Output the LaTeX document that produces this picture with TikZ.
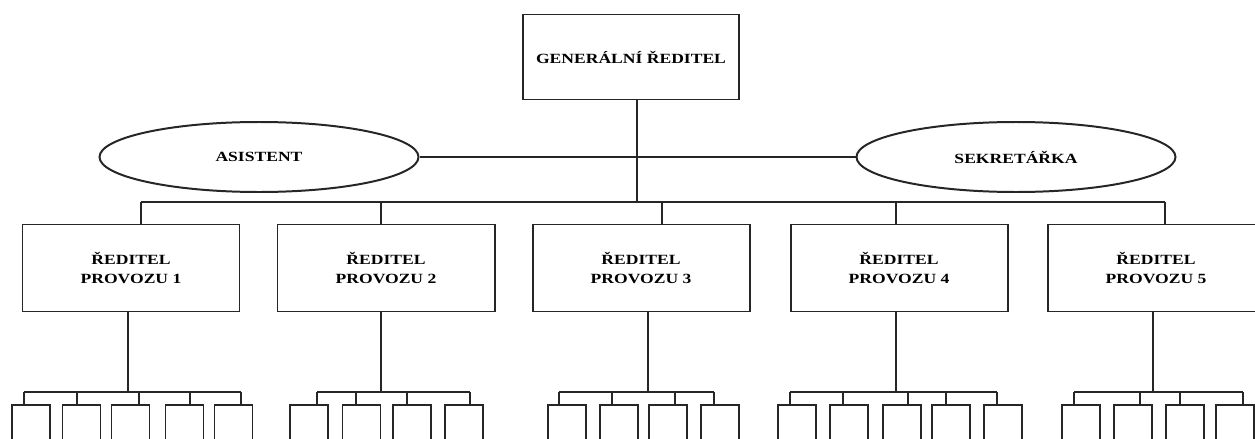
\documentclass[tikz,border=0pt]{standalone}
\usepackage{fontspec}
\setmainfont{Liberation Serif}
\newfontfamily\orgfont[FakeStretch=1.25]{Liberation Serif}
\usetikzlibrary{shapes.geometric}

\tikzset{
  hlavni/.style={draw, minimum width=64.8mm, minimum height=25.5mm},
  provoz/.style={draw, minimum width=65.1mm, minimum height=26.1mm, align=center},
  stab/.style={draw, ellipse, minimum width=95.7mm, minimum height=21mm},
  bunka/.style={draw, anchor=north, minimum width=11.4mm, minimum height=24mm}
}

\begin{document}
\begin{tikzpicture}[x=0.3mm, y=-0.3mm, line width=1.7pt, draw=black!85,
    every node/.style={font=\orgfont\bfseries\fontsize{12}{17}\selectfont}]
        \useasboundingbox (0,0) rectangle (1255,439);
        % vedeni
        \node[hlavni] (gr) at (631,57) {GENERÁLNÍ ŘEDITEL};
        \node[stab] (asist) at (259,157) {ASISTENT};
        \node[stab] (sekr) at (1016,157) {SEKRETÁŘKA};
        \draw (asist.east) -- (sekr.west);
        \draw (637,202) coordinate (kmen) -- (kmen |- gr.south);
        % reditele provozu
        \node[provoz] (r1) at (131,268) {ŘEDITEL\\PROVOZU 1};
        \node[provoz] (r2) at (386,268) {ŘEDITEL\\PROVOZU 2};
        \node[provoz] (r3) at (641,268) {ŘEDITEL\\PROVOZU 3};
        \node[provoz] (r4) at (899,268) {ŘEDITEL\\PROVOZU 4};
        \node[provoz] (r5) at (1156,268) {ŘEDITEL\\PROVOZU 5};
        \draw (141,202) coordinate (b1) -- (b1 |- r1.north);
        \draw (381,202) coordinate (b2) -- (b2 |- r2.north);
        \draw (662,202) coordinate (b3) -- (b3 |- r3.north);
        \draw (896,202) coordinate (b4) -- (b4 |- r4.north);
        \draw (1165,202) coordinate (b5) -- (b5 |- r5.north);
        \draw (b1) -- (b5);
        % provoz 1
        \draw (128,392) coordinate (c1) -- (c1 |- r1.south);
        \node[bunka] (s11) at (31,404) {};
        \node[bunka] (s12) at (81.5,404) {};
        \node[bunka] (s13) at (130.5,404) {};
        \node[bunka] (s14) at (184.5,404) {};
        \node[bunka] (s15) at (233.5,404) {};
        \draw (24,392) coordinate (d11) -- (d11 |- s11.north);
        \draw (77,392) coordinate (d12) -- (d12 |- s12.north);
        \draw (139,392) coordinate (d13) -- (d13 |- s13.north);
        \draw (190,392) coordinate (d14) -- (d14 |- s14.north);
        \draw (241,392) coordinate (d15) -- (d15 |- s15.north);
        \draw (d11) -- (d15);
        % provoz 2
        \draw (381,392) coordinate (c2) -- (c2 |- r2.south);
        \node[bunka] (s21) at (309,404) {};
        \node[bunka] (s22) at (361.5,404) {};
        \node[bunka] (s23) at (412,404) {};
        \node[bunka] (s24) at (464,404) {};
        \draw (317,392) coordinate (d21) -- (d21 |- s21.north);
        \draw (356,392) coordinate (d22) -- (d22 |- s22.north);
        \draw (407,392) coordinate (d23) -- (d23 |- s23.north);
        \draw (470,392) coordinate (d24) -- (d24 |- s24.north);
        \draw (d21) -- (d24);
        % provoz 3
        \draw (648,392) coordinate (c3) -- (c3 |- r3.south);
        \node[bunka] (s31) at (566.5,404) {};
        \node[bunka] (s32) at (618.5,404) {};
        \node[bunka] (s33) at (668,404) {};
        \node[bunka] (s34) at (720,404) {};
        \draw (559,392) coordinate (d31) -- (d31 |- s31.north);
        \draw (612,392) coordinate (d32) -- (d32 |- s32.north);
        \draw (675,392) coordinate (d33) -- (d33 |- s33.north);
        \draw (714,392) coordinate (d34) -- (d34 |- s34.north);
        \draw (d31) -- (d34);
        % provoz 4
        \draw (896,392) coordinate (c4) -- (c4 |- r4.south);
        \node[bunka] (s41) at (797,404) {};
        \node[bunka] (s42) at (849,404) {};
        \node[bunka] (s43) at (901.5,404) {};
        \node[bunka] (s44) at (950.5,404) {};
        \node[bunka] (s45) at (1002.5,404) {};
        \draw (790,392) coordinate (d41) -- (d41 |- s41.north);
        \draw (843,392) coordinate (d42) -- (d42 |- s42.north);
        \draw (908,392) coordinate (d43) -- (d43 |- s43.north);
        \draw (946,392) coordinate (d44) -- (d44 |- s44.north);
        \draw (997,392) coordinate (d45) -- (d45 |- s45.north);
        \draw (d41) -- (d45);
        % provoz 5
        \draw (1153,392) coordinate (c5) -- (c5 |- r5.south);
        \node[bunka] (s51) at (1080.5,404) {};
        \node[bunka] (s52) at (1133,404) {};
        \node[bunka] (s53) at (1185,404) {};
        \node[bunka] (s54) at (1235,404) {};
        \draw (1074,392) coordinate (d51) -- (d51 |- s51.north);
        \draw (1140,392) coordinate (d52) -- (d52 |- s52.north);
        \draw (1180,392) coordinate (d53) -- (d53 |- s53.north);
        \draw (1243,392) coordinate (d54) -- (d54 |- s54.north);
        \draw (d51) -- (d54);
    \end{tikzpicture}
\end{document}
